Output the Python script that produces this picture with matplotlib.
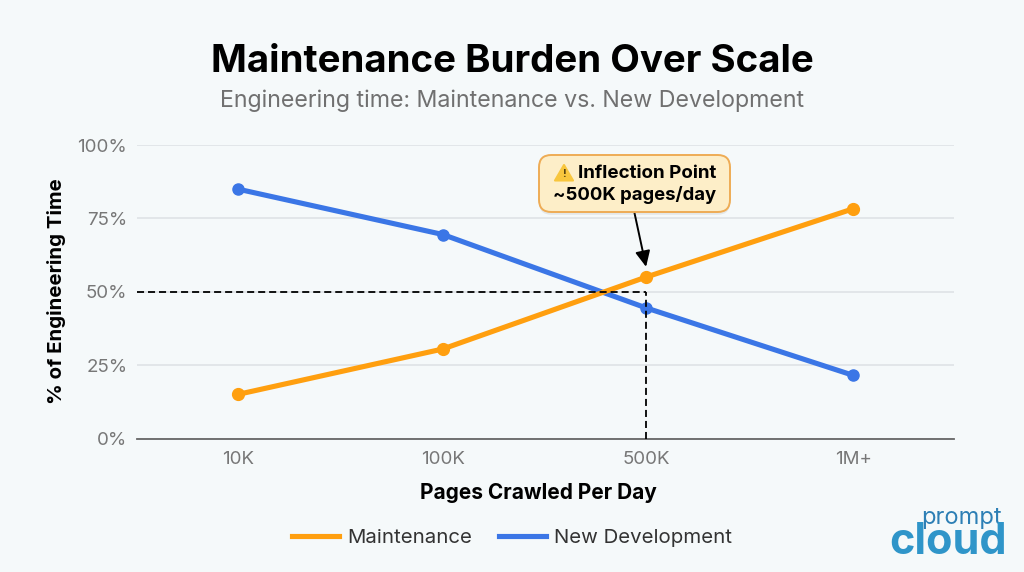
import matplotlib
matplotlib.use("Agg")
import matplotlib.pyplot as plt
from matplotlib.patches import FancyBboxPatch, Polygon
import matplotlib.patheffects as pe

plt.rcParams['font.family'] = ['Inter', 'DejaVu Sans']

scale_labels = ["10K", "100K", "500K", "1M+"]
scale_pos = [0, 1, 1.99, 3]
maintenance = [15, 30.5, 55, 78.3]
new_dev = [85, 69.5, 44.5, 21.5]
y_ticks = [0, 25, 50, 75, 100]
y_tick_labels = ["0%", "25%", "50%", "75%", "100%"]

W, H = 1024, 572
BG = "#f5f9fa"
ORANGE = "#ff9f0f"
BLUE = "#3b76e6"
DASH = (0, (3.9, 2.2))

fig = plt.figure(figsize=(W / 100, H / 100), dpi=100, facecolor=BG)
ax = fig.add_axes([137 / W, 1 - 438.5 / H, 817 / W, 293.5 / H])
ax.set_facecolor("none")

ax.plot(scale_pos, maintenance, color=ORANGE, linewidth=3.7, marker="o", markersize=8.5, label="Maintenance", zorder=4)
ax.plot(scale_pos, new_dev, color=BLUE, linewidth=3.7, marker="o", markersize=8, label="New Development", zorder=3)

# inflection guides
ax.plot([-0.49, scale_pos[2]], [50, 50], color="black", linestyle=DASH, linewidth=1.3, zorder=5)
ax.plot([scale_pos[2], scale_pos[2]], [0, 50], color="black", linestyle=DASH, linewidth=1.3, zorder=5)

ax.set_xlim(-0.49, 3.49)
ax.set_ylim(0, 100)
ax.set_xticks(scale_pos, scale_labels)
ax.set_yticks(y_ticks, y_tick_labels)
ax.tick_params(length=0, labelsize=13.5, labelcolor="#777777")
ax.tick_params(axis="x", pad=9)
ax.tick_params(axis="y", pad=7)
ax.grid(axis="y", color="#dfe3e6", linewidth=1.2)
ax.set_axisbelow(True)
for s in ["top", "right", "left"]:
    ax.spines[s].set_visible(False)
ax.spines["bottom"].set_color("#666666")
ax.spines["bottom"].set_linewidth(1.3)

fig.text(512 / W, 1 - 62 / H, "Maintenance Burden Over Scale", ha="center", va="center",
         fontsize=27.7, fontweight="bold", color="black")
fig.text(512 / W, 1 - 101 / H, "Engineering time: Maintenance vs. New Development", ha="center", va="center",
         fontsize=16.7, color="#707070")
fig.text(538 / W, 1 - 493 / H, "Pages Crawled Per Day", ha="center", va="center",
         fontsize=15, fontweight="bold", color="black")
fig.text(56 / W, 1 - 291 / H, "% of Engineering Time", ha="center", va="center", rotation=90,
         fontsize=14.7, fontweight="bold", color="black")

# callout box
box = FancyBboxPatch((539 / W, 1 - 212 / H), 191 / W, 57 / H,
                     boxstyle="round,pad=0,rounding_size=0.012", mutation_aspect=W / H,
                     transform=fig.transFigure, facecolor="#fdeec8", edgecolor="#eeac55", linewidth=1.4, zorder=6,
                     path_effects=[pe.SimplePatchShadow(offset=(0, -2), alpha=0.15, shadow_rgbFace="#888888"), pe.Normal()])
fig.add_artist(box)
tri = Polygon([[555 / W, 1 - 180.5 / H], [573 / W, 1 - 180.5 / H], [564 / W, 1 - 165 / H]],
              closed=True, transform=fig.transFigure, facecolor="#f8c63d", edgecolor="#f8c63d",
              linewidth=1.5, joinstyle="round", zorder=7)
fig.add_artist(tri)
fig.text(564 / W, 1 - 174 / H, "!", ha="center", va="center", fontsize=8, fontweight="bold", color="#5a4510", zorder=8)
fig.text(647.5 / W, 1 - 173 / H, "Inflection Point", ha="center", va="center",
         fontsize=13.5, fontweight="bold", color="black", zorder=8)
fig.text(634.5 / W, 1 - 195 / H, "~500K pages/day", ha="center", va="center",
         fontsize=13.3, fontweight="bold", color="black", zorder=8)

# arrow to the 500K maintenance point
ax.annotate("", xy=(scale_pos[2], maintenance[2] + 3.5), xytext=(634.5 / W, 1 - 213 / H),
            xycoords="data", textcoords="figure fraction",
            arrowprops=dict(arrowstyle="-|>,head_width=0.45,head_length=0.95", color="black", linewidth=1.4,
                            shrinkA=0, shrinkB=0), zorder=6)

# legend
handles, labels = ax.get_legend_handles_labels()
fig.legend(handles, labels, loc="center", bbox_to_anchor=(512 / W, 1 - 538 / H), ncol=2, frameon=False,
           fontsize=14.7, labelcolor="#333333", handlelength=2.3, handletextpad=0.4, columnspacing=1.35)
for h in fig.legends[0].legend_handles:
    h.set_marker("")

# logo
fig.text(961 / W, 1 - 518 / H, "prompt", ha="center", va="center", fontsize=17, color="#2d7fb5")
fig.text(948 / W, 1 - 542 / H, "cloud", ha="center", va="center", fontsize=31, fontweight="bold", color="#2f95c9")

fig.savefig("out.png", dpi=100, facecolor=BG)
